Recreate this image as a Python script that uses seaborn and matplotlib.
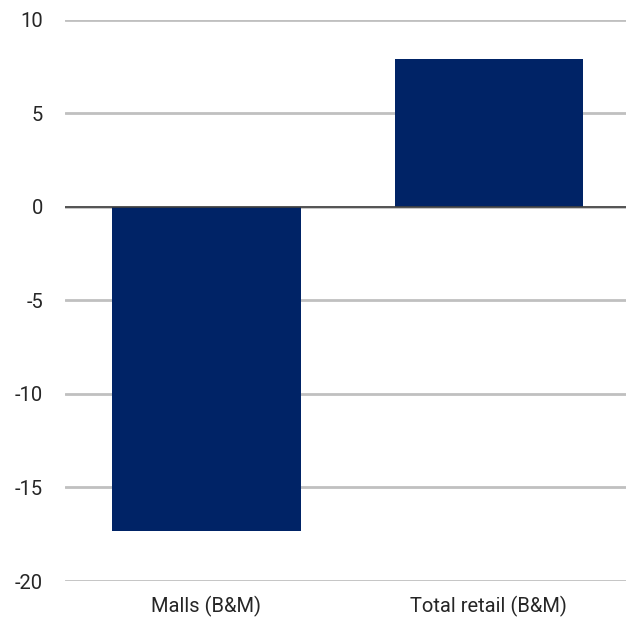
import pandas as pd
import seaborn as sns
import matplotlib.pyplot as plt

# chart values
categories = ["Malls (B&M)", "Total retail (B&M)"]
values = [-17.3, 7.9]
yticks = [-20, -15, -10, -5, 0, 5, 10]

df = pd.DataFrame({"category": categories, "value": values})

sns.set_style("white")
plt.rcParams['font.family'] = ['Roboto', 'DejaVu Sans']

fig = plt.figure(figsize=(6.26, 6.23), dpi=100)
ax = fig.add_axes([0.104, 0.0674, 0.9026, 0.9006])

sns.barplot(data=df, x="category", y="value", color="#002366", saturation=1,
            width=0.667, linewidth=0, ax=ax, zorder=3)

ax.set_ylim(-20, 10)
ax.set_yticks(yticks)
ax.set_yticklabels([str(t) for t in yticks])
ax.set_xlim(-0.5, 1.5)
ax.yaxis.grid(True, color="#c0c0c0", linewidth=2, zorder=0)
ax.axhline(0, color="#404040", linewidth=1.2, zorder=4)
for s in ax.spines.values():
    s.set_visible(False)
ax.tick_params(axis="both", length=0, labelsize=14.5, colors="#262626")
ax.tick_params(axis="y", pad=16)
ax.tick_params(axis="x", pad=11)
ax.set_xlabel("")
ax.set_ylabel("")

fig.savefig("out.png", dpi=100)
